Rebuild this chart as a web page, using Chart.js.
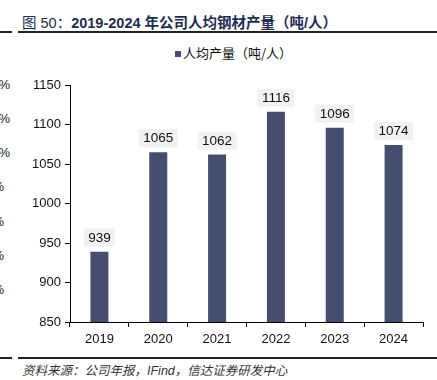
<!DOCTYPE html>
<html><head><meta charset="utf-8">
<script src="https://cdn.jsdelivr.net/npm/chart.js@4"></script>
<style>
html,body{margin:0;padding:0;background:#fff;width:437px;height:380px;overflow:hidden;position:relative;font-family:"Liberation Sans","Noto Sans CJK SC",sans-serif;}
#title{position:absolute;left:22px;top:11px;font-size:14.5px;color:#1F2D50;white-space:nowrap;font-family:"Liberation Sans","Noto Sans CJK SC";}
#title .n{font-weight:normal;}
#title .b{font-weight:bold;}
.line{position:absolute;background:#222;}
#src{position:absolute;left:22px;top:360px;font-size:12.5px;color:#333;font-style:italic;white-space:nowrap;font-family:"Liberation Sans","Noto Sans CJK SC";}
.frag{position:absolute;font-size:13px;color:#222;text-align:right;width:40px;}
#legend{position:absolute;left:175px;top:44px;font-size:13px;color:#111;white-space:nowrap;font-family:"Noto Sans CJK SC",sans-serif;line-height:18px;}
#legend .sw{display:inline-block;width:6px;height:6px;background:#454E6E;margin-right:2px;vertical-align:1px;}
#wrap{position:absolute;left:0;top:40px;width:437px;height:310px;}
</style></head>
<body>
<div id="title"><span class="n">图 50：</span><span class="b">2019-2024 年公司人均钢材产量（吨/人）</span></div>
<div class="line" style="left:0;top:31px;width:12px;height:2px"></div>
<div class="line" style="left:18px;top:31px;width:419px;height:2px"></div>
<div class="line" style="left:0;top:357px;width:12px;height:1.5px"></div>
<div class="line" style="left:18px;top:357px;width:419px;height:1.5px"></div>
<div id="src">资料来源：公司年报，IFind，信达证券研发中心</div>
<div class="frag" style="left:-30px;top:77px">%</div>
<div class="frag" style="left:-30px;top:111px">%</div>
<div class="frag" style="left:-30px;top:145px">%</div>
<div class="frag" style="left:-36px;top:179px">%</div>
<div class="frag" style="left:-36px;top:214px">%</div>
<div class="frag" style="left:-36px;top:248px">%</div>
<div class="frag" style="left:-36px;top:282px">%</div>
<div id="legend"></div>
<div id="wrap"><canvas id="c" width="437" height="310"></canvas></div>
<script>
const categories = ["2019","2020","2021","2022","2023","2024"];
const perCapitaOutput = [939, 1065, 1062, 1116, 1096, 1074];
const seriesName = "人均产量（吨/人）";
const yTicks = [850, 900, 950, 1000, 1050, 1100, 1150];
const barColor = '#454E6E';

document.getElementById('legend').innerHTML = '<span class="sw"></span>' + seriesName;

const labelPlugin = {
  id: 'barLabels',
  afterDatasetsDraw(chart) {
    const ctx = chart.ctx;
    const meta = chart.getDatasetMeta(0);
    ctx.save();
    ctx.font = '13.5px "Liberation Sans", Arial, sans-serif';
    ctx.textAlign = 'center';
    ctx.textBaseline = 'middle';
    meta.data.forEach((bar, i) => {
      const txt = String(chart.data.datasets[0].data[i]);
      const w = ctx.measureText(txt).width + 9;
      const h = 18;
      const bottom = bar.y - 5;
      ctx.fillStyle = '#F2F2F2';
      ctx.fillRect(bar.x - w / 2, bottom - h, w, h);
      ctx.fillStyle = '#111';
      ctx.fillText(txt, bar.x, bottom - h / 2 + 0.5);
    });
    ctx.restore();
  }
};

new Chart(document.getElementById('c'), {
  type: 'bar',
  data: {
    labels: categories,
    datasets: [{
      label: seriesName,
      data: perCapitaOutput,
      backgroundColor: barColor,
      borderWidth: 0,
      categoryPercentage: 1,
      barPercentage: 0.306
    }]
  },
  options: {
    responsive: false,
    animation: false,
    layout: { padding: { left: 0, right: 14, top: 45, bottom: 0 } },
    plugins: {
      tooltip: { enabled: false },
      legend: { display: false }
    },
    scales: {
      x: {
        grid: { display: true, drawOnChartArea: false, drawTicks: true, tickLength: 5, color: '#000', offset: true },
        border: { display: true, color: '#000', width: 1 },
        ticks: { color: '#111', font: { size: 13, family: '"Liberation Sans", Arial' }, padding: 5, maxRotation: 0 },
        afterFit: s => { s.height = 28; }
      },
      y: {
        min: 850, max: 1150,
        afterBuildTicks: s => { s.ticks = yTicks.map(v => ({ value: v })); },
        grid: { display: true, drawOnChartArea: false, drawTicks: true, tickLength: 5, color: '#000' },
        border: { display: true, color: '#000', width: 1 },
        ticks: { color: '#111', font: { size: 13, family: '"Liberation Sans", Arial' }, padding: 4, callback: v => String(v) },
        afterFit: s => { s.width = 70; }
      }
    }
  },
  plugins: [labelPlugin]
});
</script>
</body></html>
